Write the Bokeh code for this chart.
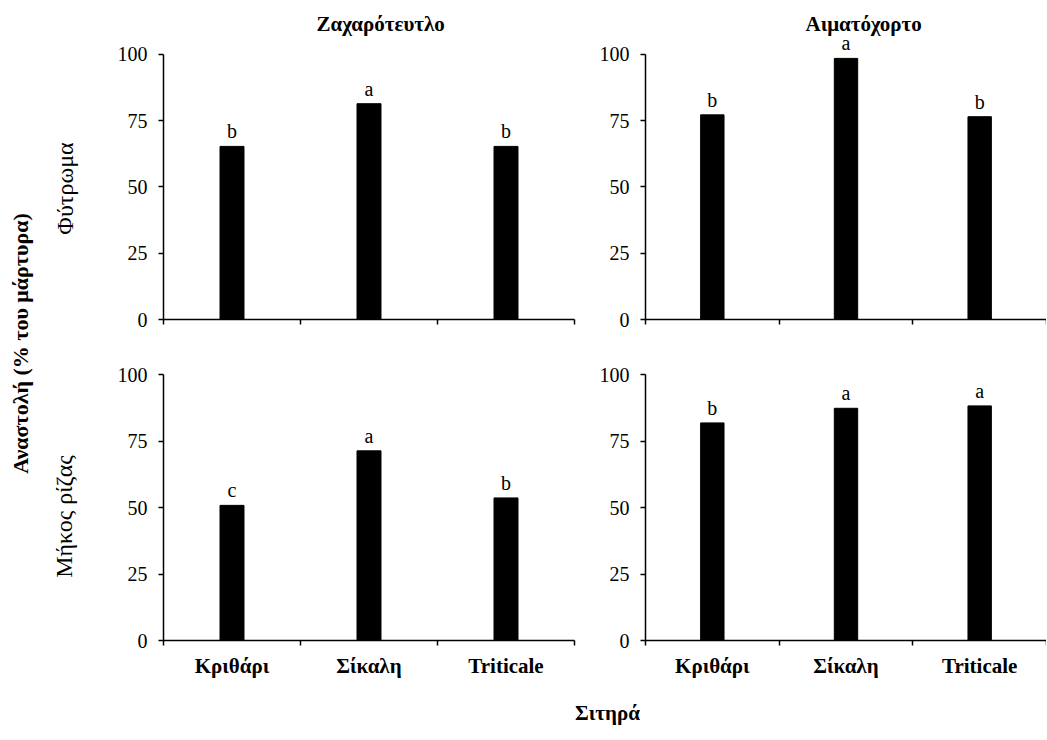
from bokeh.plotting import figure
from bokeh.layouts import row, column
from bokeh.models import (ColumnDataSource, Range1d, FixedTicker, LabelSet, Label, Title)
from bokeh.core.properties import value
from bokeh.embed import file_html
from bokeh.resources import INLINE
import math

# ---------------- data ----------------
crops = ["Κριθάρι", "Σίκαλη", "Triticale"]
weeds = ["Ζαχαρότευτλο", "Αιματόχορτο"]
measures = ["Φύτρωμα", "Μήκος ρίζας"]
y_ticks = [0, 25, 50, 75, 100]

emergence_sugarbeet = [65.3, 81.4, 65.3]
emergence_weed = [77.2, 98.5, 76.5]
root_sugarbeet = [50.8, 71.3, 53.6]
root_weed = [81.8, 87.3, 88.2]

emergence_sugarbeet_letters = ["b", "a", "b"]
emergence_weed_letters = ["b", "a", "b"]
root_sugarbeet_letters = ["c", "a", "b"]
root_weed_letters = ["b", "a", "a"]

y_title = "Αναστολή (% του μάρτυρα)"
x_title = "Σιτηρά"

FONT = "Liberation Serif"


def panel(values, letters, title, show_xlabels, width, height, mbl, mbr, mbt, mbb,
          y_end=100, title_offset=0):
    n = len(crops)
    p = figure(width=width, height=height, x_range=Range1d(0, n), y_range=Range1d(0, y_end),
               output_backend="svg", toolbar_location=None,
               min_border_left=mbl, min_border_right=mbr, min_border_top=mbt, min_border_bottom=mbb)
    p.outline_line_color = None
    p.xgrid.visible = False
    p.ygrid.visible = False
    p.background_fill_color = "white"
    p.border_fill_color = "white"
    xs = [i + 0.5 for i in range(n)]
    src = ColumnDataSource(dict(x=xs, top=values, lab=letters))
    p.vbar(x="x", top="top", bottom=0, width=0.175, fill_color="black", line_color="black", source=src)
    ls = LabelSet(x="x", y="top", text="lab", source=src, y_offset=8,
                  text_align="center", text_baseline="alphabetic",
                  text_font=value(FONT), text_font_size="20px", text_color="black")
    p.add_layout(ls)

    # y axis
    ya = p.yaxis[0]
    ya.ticker = FixedTicker(ticks=y_ticks)
    ya.bounds = (y_ticks[0], y_ticks[-1])
    ya.axis_line_color = "black"
    ya.axis_line_width = 1.5
    ya.major_tick_line_color = "black"
    ya.major_tick_line_width = 1.5
    ya.major_tick_out = 5
    ya.major_tick_in = 0
    ya.minor_tick_line_color = None
    ya.major_label_text_font = FONT
    ya.major_label_text_font_size = "20px"
    ya.major_label_text_color = "black"
    ya.major_label_standoff = 11

    # x axis: labels at category centres, ticks at category boundaries
    xa = p.xaxis[0]
    xa.ticker = FixedTicker(ticks=xs if show_xlabels else [], minor_ticks=list(range(n + 1)))
    xa.major_label_overrides = {x: c for x, c in zip(xs, crops)}
    xa.axis_line_color = "black"
    xa.axis_line_width = 1.5
    xa.major_tick_line_color = None
    xa.major_tick_out = 0
    xa.major_tick_in = 0
    xa.minor_tick_line_color = "black"
    xa.minor_tick_line_width = 1.5
    xa.minor_tick_out = 5
    xa.minor_tick_in = 0
    xa.major_label_text_font = FONT
    xa.major_label_text_font_style = "bold"
    xa.major_label_text_font_size = "21px"
    xa.major_label_text_color = "black"
    xa.major_label_standoff = 8

    if title:
        p.title = Title(text=title, align="left", text_font=FONT, text_font_style="bold",
                        text_font_size="21px", text_color="black", standoff=6, offset=title_offset)
    return p


LW, RW = 492, 461
TH, BH = 350, 340

tl = panel(emergence_sugarbeet, emergence_sugarbeet_letters, weeds[0], False, LW, TH, 70, 11, 38, 31,
           y_end=106, title_offset=153)
tr = panel(emergence_weed, emergence_weed_letters, weeds[1], False, RW, TH, 60, 0, 38, 31,
           y_end=106, title_offset=160)
bl = panel(root_sugarbeet, root_sugarbeet_letters, None, True, LW, BH, 70, 11, 24, 50)
br = panel(root_weed, root_weed_letters, None, True, RW, BH, 60, 0, 24, 50)

# bottom label strip
XW, XH = LW + RW, 46

# left label strip
LBW, LBH = 93, TH + BH + XH
lab = figure(width=LBW, height=LBH, x_range=Range1d(0, LBW), y_range=Range1d(0, LBH),
             x_axis_type=None, y_axis_type=None, output_backend="svg", toolbar_location=None,
             min_border=0)
lab.outline_line_color = None
lab.xgrid.visible = False
lab.ygrid.visible = False
lab.add_layout(Label(x=20, y=LBH - 343, text=y_title, angle=math.pi / 2, text_align="center",
                     text_baseline="middle", text_font=FONT, text_font_style="bold",
                     text_font_size="22px", text_color="black"))
lab.add_layout(Label(x=64, y=LBH - 188, text=measures[0], angle=math.pi / 2, text_align="center",
                     text_baseline="middle", text_font=FONT, text_font_size="24px", text_color="black"))
lab.add_layout(Label(x=63, y=LBH - 516, text=measures[1], angle=math.pi / 2, text_align="center",
                     text_baseline="middle", text_font=FONT, text_font_size="24px", text_color="black"))

xf = figure(width=XW, height=XH, x_range=Range1d(0, XW), y_range=Range1d(0, XH),
            x_axis_type=None, y_axis_type=None, output_backend="svg", toolbar_location=None,
            min_border=0)
xf.outline_line_color = None
xf.xgrid.visible = False
xf.ygrid.visible = False
xf.add_layout(Label(x=607 - LBW, y=XH - (712 - TH - BH), text=x_title, text_align="center",
                    text_baseline="middle", text_font=FONT, text_font_style="bold",
                    text_font_size="21px", text_color="black"))

layout = row(lab, column(row(tl, tr), row(bl, br), xf))

open("out.html", "w").write(file_html(layout, INLINE))
